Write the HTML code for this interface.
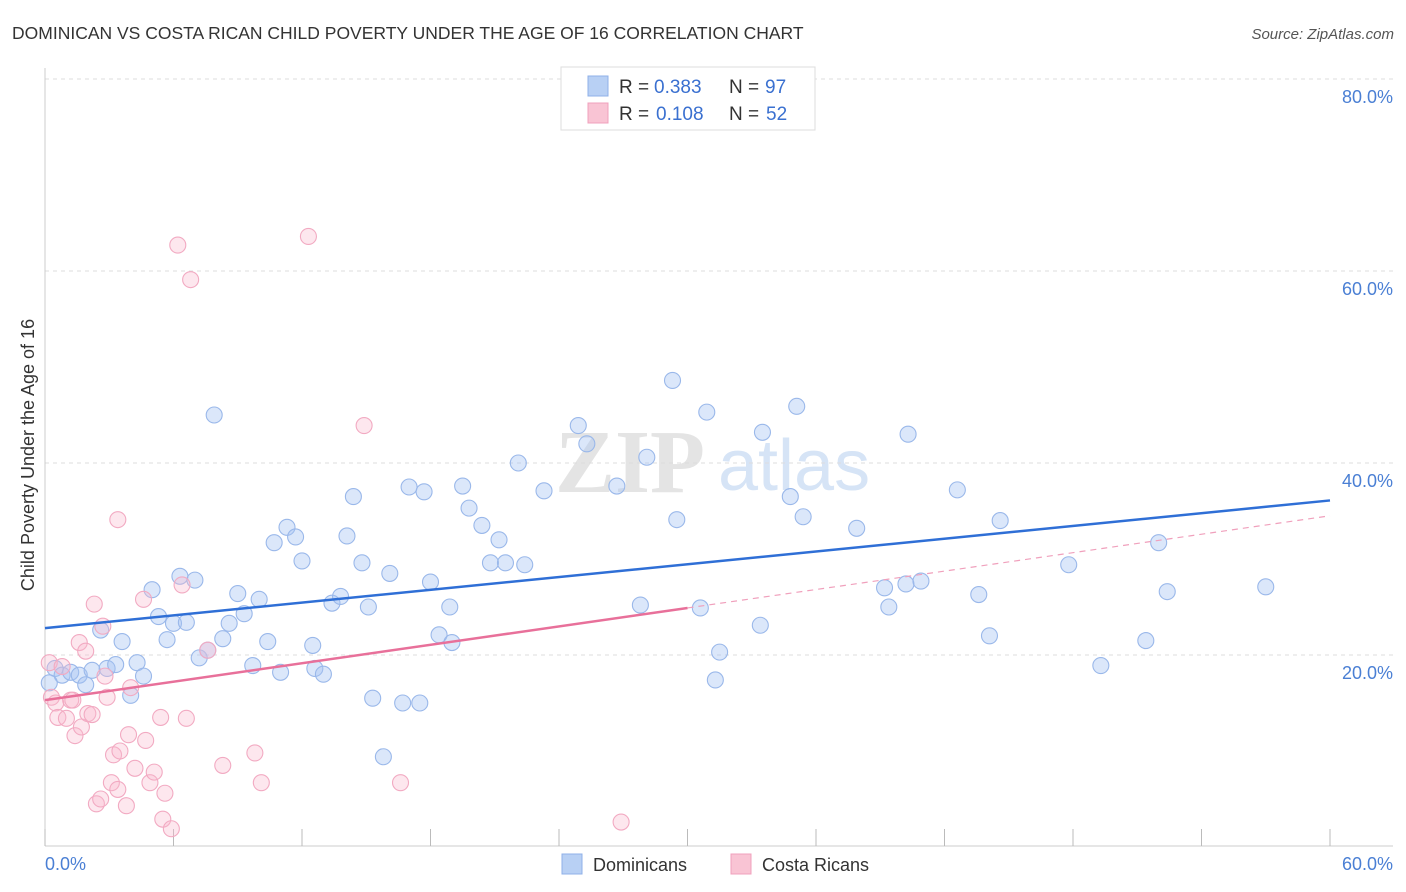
<!DOCTYPE html>
<html><head><meta charset="utf-8"><style>
body{margin:0;background:#fff;font-family:"Liberation Sans",sans-serif;}
svg{display:block}
</style></head><body>
<svg id="chart" width="1406" height="892">
<text x="12" y="39" font-size="17.5" fill="#333">DOMINICAN VS COSTA RICAN CHILD POVERTY UNDER THE AGE OF 16 CORRELATION CHART</text>
<text x="1394" y="39" font-size="15" fill="#555" font-style="italic" text-anchor="end">Source: ZipAtlas.com</text>
<g>
<text x="555" y="492" font-size="90" font-family="Liberation Serif" fill="#e4e4e4" font-weight="bold">ZIP</text>
<text x="718" y="490" font-size="72" fill="#d6e4f6">atlas</text>
</g>
<g id="grid"></g>
<g id="marks"></g>
<text transform="translate(34,455) rotate(-90)" font-size="18" fill="#333" text-anchor="middle">Child Poverty Under the Age of 16</text>
<text x="45" y="870" font-size="18" fill="#4a7fd4">0.0%</text>
<text x="1393" y="870" font-size="18" fill="#4a7fd4" text-anchor="end">60.0%</text>
<g>
<rect x="561" y="67" width="254" height="63" fill="#fff" stroke="#ddd"/>
<rect x="588" y="76" width="20" height="20" fill="#b8d0f4" stroke="#8fb0e8"/>
<rect x="588" y="103" width="20" height="20" fill="#f9c4d4" stroke="#f0a0bc"/>
<text x="619" y="93" font-size="19" fill="#333">R =</text>
<text x="654" y="93" font-size="19" fill="#3a70d0">0.383</text>
<text x="729" y="93" font-size="19" fill="#333">N =</text>
<text x="765" y="93" font-size="19" fill="#3a70d0">97</text>
<text x="619" y="120" font-size="19" fill="#333">R =</text>
<text x="656" y="120" font-size="19" fill="#3a70d0">0.108</text>
<text x="729" y="120" font-size="19" fill="#333">N =</text>
<text x="766" y="120" font-size="19" fill="#3a70d0">52</text>
</g>
<g>
<rect x="562" y="854" width="20" height="20" fill="#b8d0f4" stroke="#8fb0e8"/>
<text x="593" y="871" font-size="18" fill="#333">Dominicans</text>
<rect x="731" y="854" width="20" height="20" fill="#f9c4d4" stroke="#f0a0bc"/>
<text x="762" y="871" font-size="18" fill="#333">Costa Ricans</text>
</g>
</svg>
<script>
const yTicks=[20,40,60,80];
const xTicks=[0,6,12,18,24,30,36,42,48,54,60];
const blueX=[0.47,0.8,1.2,1.6,1.9,2.2,2.6,2.9,3.3,3.6,4.0,4.3,4.6,5.0,5.3,5.7,6.0,6.3,6.6,7.0,7.2,7.6,7.9,8.3,8.6,9.0,9.3,9.7,10.0,10.4,10.7,11.0,11.3,11.7,12.0,12.5,12.6,13.0,13.4,13.8,14.1,14.4,14.8,15.1,15.3,15.8,16.1,16.7,17.0,17.5,17.7,18.0,18.4,18.9,19.0,19.5,19.8,20.4,20.8,21.2,21.5,22.1,22.4,23.3,24.9,25.3,26.7,28.1,27.8,29.3,29.5,30.6,30.9,31.3,31.5,33.4,33.5,34.8,35.1,35.4,37.9,39.2,39.4,40.2,40.3,40.9,42.6,43.6,44.1,44.6,47.8,49.3,51.4,52.0,52.4,57.0,0.2];
const blueY=[18.6,17.9,18.2,17.9,16.9,18.4,22.6,18.6,19.0,21.4,15.8,19.2,17.8,26.8,24.0,21.6,23.3,28.2,23.4,27.8,19.7,20.5,45.0,21.7,23.3,26.4,24.3,18.9,25.8,21.4,31.7,18.2,33.3,32.3,29.8,21.0,18.6,18.0,25.4,26.1,32.4,36.5,29.6,25.0,15.5,9.4,28.5,15.0,37.5,15.0,37.0,27.6,22.1,25.0,21.3,37.6,35.3,33.5,29.6,32.0,29.6,40.0,29.4,37.1,43.9,42.0,37.6,40.6,25.2,48.6,34.1,24.9,45.3,17.4,20.3,23.1,43.2,36.5,45.9,34.4,33.2,27.0,25.0,27.4,43.0,27.7,37.2,26.3,22.0,34.0,29.4,18.9,21.5,31.7,26.6,27.1,17.1];
const pinkX=[0.2,0.3,0.5,0.6,0.8,1.0,1.2,1.3,1.4,1.6,1.7,1.9,2.0,2.2,2.3,2.4,2.6,2.7,2.8,2.9,3.1,3.2,3.4,3.4,3.5,3.8,3.9,4.0,4.2,4.6,4.7,4.9,5.1,5.4,5.5,5.6,5.9,6.2,6.4,6.6,6.8,7.6,8.3,9.8,10.1,12.3,14.9,16.6,26.9];
const pinkY=[19.2,15.6,15.0,13.5,18.8,13.4,15.3,15.3,11.6,21.3,12.5,20.4,13.9,13.8,25.3,4.5,5.0,23.0,17.8,15.6,6.7,9.6,34.1,6.0,10.0,4.3,11.7,16.6,8.2,25.8,11.1,6.7,7.8,13.5,2.9,5.6,1.9,62.7,27.3,13.4,59.1,20.5,8.5,9.8,6.7,63.6,43.9,6.7,2.6];
const blueTrend=[22.8,36.1];
const pinkTrend=[15.3,34.5];
const pinkSolidEnd=30;
const NS='http://www.w3.org/2000/svg';
const X=v=>45+v*(1285/60);
const Y=v=>847-v*9.6;
const grid=document.getElementById('grid'),marks=document.getElementById('marks');
function mk(p,tag,a){const e=document.createElementNS(NS,tag);for(const k in a)e.setAttribute(k,a[k]);p.appendChild(e);return e;}
for(const t of yTicks){
 const l=mk(grid,'line',{x1:45,x2:1393,y1:Y(t),y2:Y(t),stroke:'#ddd','stroke-dasharray':'4,4'});
 
 
 const tx=mk(grid,'text',{x:1393,y:Y(t)+24,'font-size':18,fill:'#4a7fd4','text-anchor':'end'});
 tx.textContent=t.toFixed(1)+'%';
 
 
}
const ax=mk(grid,'line',{x1:45,x2:1393,y1:846,y2:846,stroke:'#ccc'});


const ay=mk(grid,'line',{x1:45,x2:45,y1:68,y2:846,stroke:'#ccc'});


for(const t of xTicks){
 const l=mk(grid,'line',{x1:X(t),x2:X(t),y1:829,y2:846,stroke:'#bbb'});
 
 
}
blueX.forEach((v,i)=>{
 const c=mk(marks,'circle',{cx:X(v),cy:Y(blueY[i]),r:8,fill:'rgba(165,195,242,0.4)',stroke:'#9ab8ea','stroke-width':1.1});
 
 
});
pinkX.forEach((v,i)=>{
 const c=mk(marks,'circle',{cx:X(v),cy:Y(pinkY[i]),r:8,fill:'rgba(248,185,205,0.35)',stroke:'#f2aac2','stroke-width':1.1});
 
 
});
const bl=mk(marks,'line',{x1:X(0),y1:Y(blueTrend[0]),x2:X(60),y2:Y(blueTrend[1]),stroke:'#2f6fd6','stroke-width':2.5});


const pm=pinkTrend[0]+(pinkTrend[1]-pinkTrend[0])*pinkSolidEnd/60;
const pl=mk(marks,'line',{x1:X(0),y1:Y(pinkTrend[0]),x2:X(pinkSolidEnd),y2:Y(pm),stroke:'#e8709a','stroke-width':2.5});


const pd=mk(marks,'line',{x1:X(pinkSolidEnd),y1:Y(pm),x2:X(60),y2:Y(pinkTrend[1]),stroke:'#f0a0bc','stroke-width':1.2,'stroke-dasharray':'6,5'});


</script>
</body></html>
